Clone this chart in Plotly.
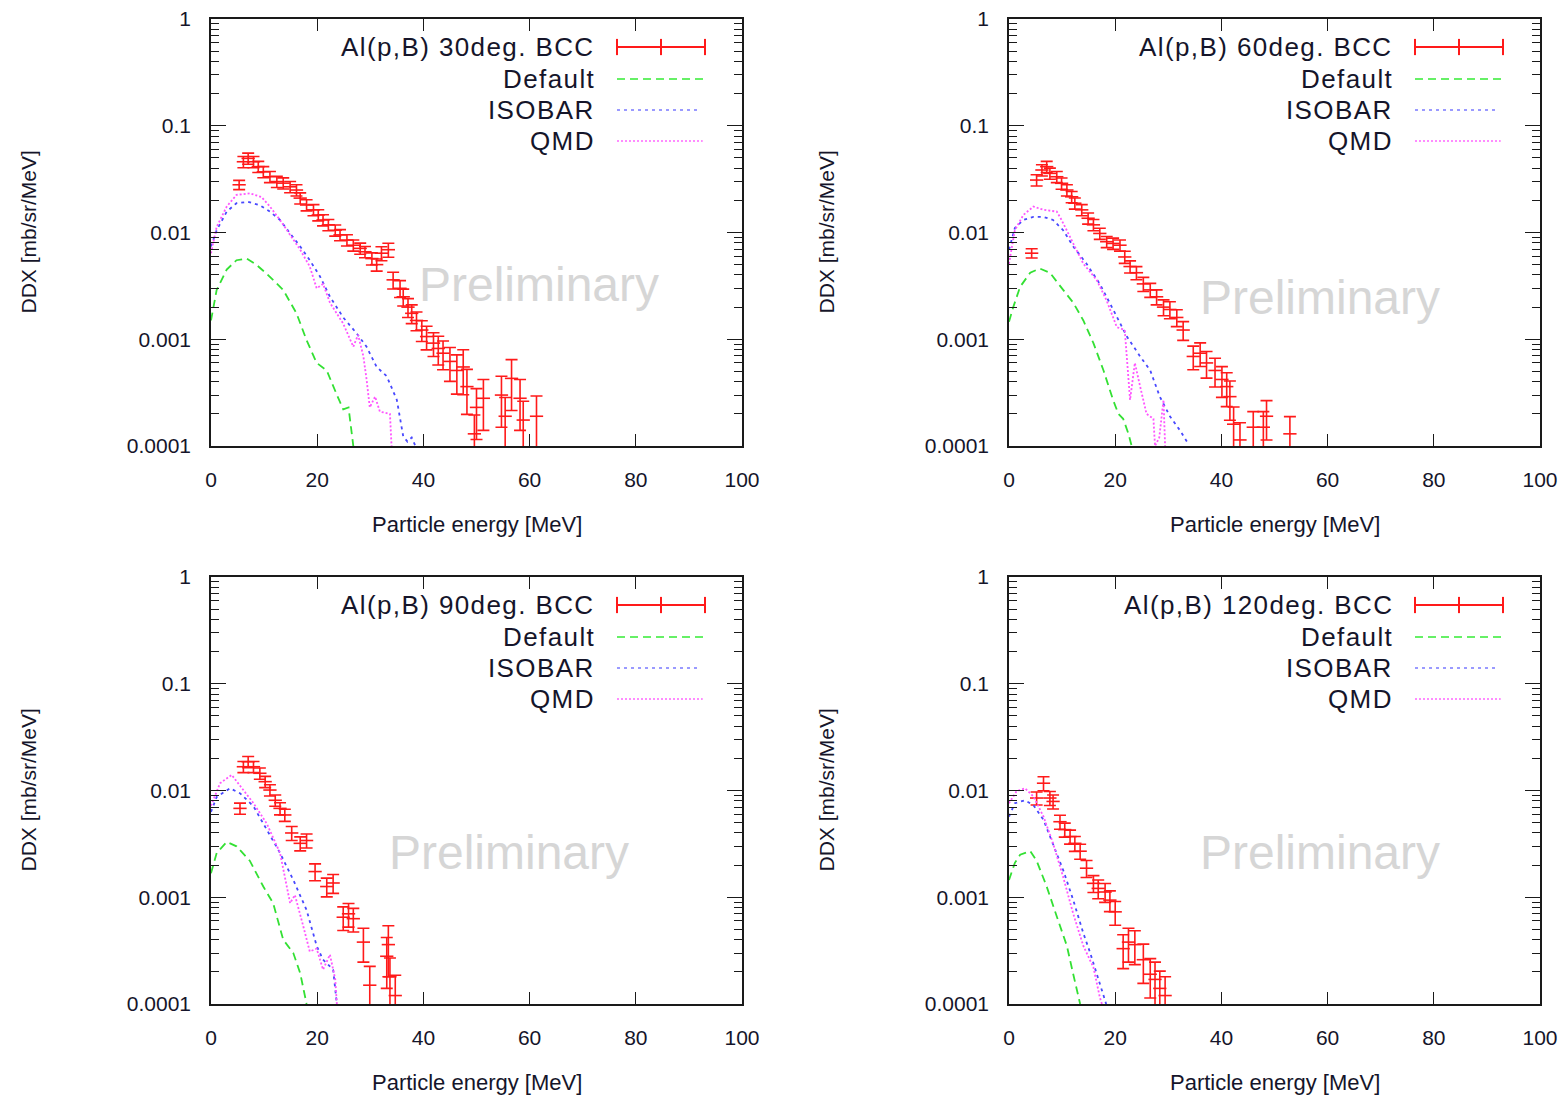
import plotly.graph_objects as go

FONT = "Liberation Sans, Arial, sans-serif"
W, H = 1568, 1098

# ---------------- data ----------------
titles = ["Al(p,B) 30deg. BCC", "Al(p,B) 60deg. BCC", "Al(p,B) 90deg. BCC", "Al(p,B) 120deg. BCC"]
model_names = ["Default", "ISOBAR", "QMD"]
y_tickvals = [1e-4, 1e-3, 1e-2, 1e-1, 1]
y_ticktext = ["0.0001", "0.001", "0.01", "0.1", "1"]
x_tickvals = [0, 20, 40, 60, 80, 100]

# Panel 1: 30 deg
exp30_x = [5.3, 6.1, 7.0, 8.0, 8.9, 9.85, 11.1, 12.4, 13.6, 14.9, 16.1, 16.8, 18.0, 19.3, 20.2, 21.1,
           22.1, 23.4, 24.3, 25.6, 26.8, 28.1, 29.0, 30.3, 31.2, 32.1, 33.4, 34.3, 35.6, 36.2, 37.1,
           37.8, 38.7, 39.7, 40.6, 41.9, 42.8, 43.7, 45.0, 46.3, 47.5, 48.2, 49.6, 50.0, 51.3, 54.7,
           55.4, 56.6, 58.2, 58.8, 61.3]
exp30_y = [0.028, 0.046, 0.0495, 0.046, 0.0414, 0.037, 0.0333, 0.030, 0.029, 0.0268, 0.025, 0.021,
           0.0181, 0.0163, 0.0146, 0.0131, 0.0118, 0.0105, 0.0095, 0.0085, 0.0076, 0.0071, 0.0066,
           0.0057, 0.0050, 0.0064, 0.0069, 0.0036, 0.0030, 0.0025, 0.0020, 0.00175, 0.0015, 0.00122,
           0.00106, 0.00092, 0.00082, 0.00074, 0.00062, 0.00051, 0.00055, 0.00036, 0.00013, 0.00023,
           0.00028, 0.00030, 0.00019, 0.00043, 0.00028, 0.000175, 0.00019]
exp30_rel = [0.10, 0.12, 0.12, 0.12, 0.12, 0.12, 0.12, 0.12, 0.12, 0.12, 0.12, 0.12, 0.12, 0.12,
             0.12, 0.12, 0.12, 0.12, 0.12, 0.12, 0.12, 0.12, 0.12, 0.13, 0.13, 0.15, 0.15, 0.18,
             0.18, 0.18, 0.20, 0.20, 0.20, 0.22, 0.25, 0.25, 0.30, 0.30, 0.35, 0.40, 0.45, 0.45,
             0.50, 0.50, 0.50, 0.50, 0.50, 0.50, 0.50, 0.50, 0.55]
def30_x = [0, 1.07, 2.96, 4.8, 6.7, 8.5, 10.5, 13.6, 16.1, 18.0, 19.9, 21.8, 23.6, 24.9, 25.9, 26.5, 26.8]
def30_y = [0.0015, 0.0029, 0.0045, 0.0055, 0.0057, 0.0050, 0.0041, 0.0029, 0.00175, 0.00098, 0.0006,
           0.00051, 0.00031, 0.00022, 0.00023, 0.00013, 0.0001]
iso30_x = [0, 1.07, 2.96, 4.8, 7.0, 9.2, 11.1, 13.0, 14.9, 16.8, 18.6, 20.5, 22.4, 24.9, 27.4, 29.3,
           31.2, 33.1, 35.0, 35.6, 36.2, 37.0, 37.8, 38.5]
iso30_y = [0.0074, 0.0105, 0.0157, 0.0188, 0.0194, 0.018, 0.0157, 0.0131, 0.0098, 0.0074, 0.0055,
           0.0039, 0.0025, 0.0016, 0.00114, 0.00085, 0.00055, 0.00045, 0.00027, 0.000175, 0.000123,
           0.00011, 0.00012, 0.0001]
qmd30_x = [0, 1.07, 2.96, 4.8, 7.3, 9.5, 11.1, 13.0, 14.9, 16.8, 18.6, 19.9, 21.1, 22.4, 24.9, 26.8,
           27.7, 28.7, 29.3, 29.9, 30.9, 31.8, 33.7, 34.0]
qmd30_y = [0.0064, 0.0113, 0.0175, 0.0225, 0.0233, 0.0215, 0.0175, 0.0131, 0.0095, 0.0069, 0.0048,
           0.0030, 0.0033, 0.0022, 0.0014, 0.00085, 0.0011, 0.00069, 0.00042, 0.00023, 0.00029,
           0.00021, 0.0002, 0.0001]

# Panel 2: 60 deg
exp60_x = [4.27, 5.2, 6.2, 7.1, 7.7, 9.0, 9.9, 10.9, 11.8, 12.4, 13.7, 14.9, 15.9, 17.1, 18.4, 19.6,
           20.9, 21.8, 22.8, 24.0, 25.3, 26.6, 27.8, 29.1, 30.3, 31.6, 32.8, 34.7, 36.0, 37.2, 38.8,
           40.1, 41.0, 41.6, 42.3, 43.5, 46.0, 47.9, 48.5, 52.9]
exp60_y = [0.0064, 0.031, 0.0385, 0.0414, 0.0358, 0.0333, 0.0289, 0.025, 0.0216, 0.0188, 0.0163,
           0.0136, 0.0118, 0.0098, 0.0082, 0.0079, 0.0076, 0.0059, 0.0048, 0.0042, 0.0033, 0.0029,
           0.0025, 0.0020, 0.0019, 0.0016, 0.00122, 0.00069, 0.00074, 0.0006, 0.00051, 0.00042,
           0.00036, 0.00029, 0.00016, 0.000114, 0.00015, 0.00015, 0.00019, 0.00013]
exp60_rel = [0.10, 0.12, 0.12, 0.12, 0.12, 0.12, 0.12, 0.12, 0.12, 0.12, 0.12, 0.12, 0.12, 0.12,
             0.12, 0.12, 0.12, 0.13, 0.13, 0.14, 0.15, 0.15, 0.16, 0.17, 0.18, 0.18, 0.20, 0.25,
             0.25, 0.28, 0.30, 0.32, 0.35, 0.40, 0.45, 0.45, 0.40, 0.40, 0.40, 0.45]
def60_x = [0, 0.8, 2.1, 4.0, 5.8, 7.7, 10.2, 12.1, 14.0, 15.9, 17.8, 19.6, 20.6, 21.5, 22.5, 23.1]
def60_y = [0.00146, 0.0020, 0.0031, 0.0042, 0.0046, 0.0042, 0.0029, 0.0022, 0.0015, 0.00092, 0.00051,
           0.00027, 0.0002, 0.00018, 0.00013, 0.0001]
iso60_x = [0, 1.1, 2.7, 4.6, 6.5, 8.3, 10.2, 12.1, 14.6, 17.1, 19.6, 22.2, 24.7, 26.6, 28.4, 30.3,
           32.2, 33.5]
iso60_y = [0.0069, 0.011, 0.0131, 0.014, 0.014, 0.0131, 0.0105, 0.0074, 0.0051, 0.0033, 0.0019,
           0.00106, 0.00069, 0.00051, 0.00029, 0.00019, 0.00014, 0.00011]
qmd60_x = [0, 1.1, 2.7, 4.6, 6.5, 9.0, 9.9, 11.5, 14.0, 16.5, 18.4, 20.3, 21.8, 22.8, 23.7, 24.7,
           25.9, 27.2, 27.5, 28.3, 29.1, 29.4]
qmd60_y = [0.0051, 0.0105, 0.0146, 0.0175, 0.0163, 0.0157, 0.0131, 0.0091, 0.0051, 0.0036, 0.0023,
           0.0013, 0.00122, 0.00027, 0.0006, 0.00036, 0.0002, 0.00018, 0.0001, 0.00012, 0.00027, 0.0001]

# Panel 3: 90 deg
exp90_x = [5.46, 6.1, 7.0, 8.0, 9.2, 10.2, 11.1, 12.1, 13.0, 13.9, 15.2, 16.8, 18.0, 19.6, 21.8,
           23.0, 24.9, 25.9, 26.8, 28.7, 29.9, 33.1, 33.4, 33.7, 34.7]
exp90_y = [0.0068, 0.0167, 0.0186, 0.0167, 0.0145, 0.0121, 0.0101, 0.0081, 0.0068, 0.0059, 0.0040,
           0.0032, 0.0034, 0.00174, 0.00126, 0.00136, 0.00065, 0.0007, 0.00063, 0.00038, 0.00015,
           0.00028, 0.00036, 0.00018, 0.00012]
exp90_rel = [0.12, 0.12, 0.12, 0.12, 0.12, 0.12, 0.12, 0.12, 0.13, 0.13, 0.15, 0.15, 0.15, 0.18,
             0.20, 0.20, 0.25, 0.25, 0.25, 0.35, 0.50, 0.50, 0.50, 0.50, 0.55]
def90_x = [0, 1.07, 2.96, 4.8, 7.3, 9.85, 11.7, 13.6, 15.5, 16.8, 18.0]
def90_y = [0.00168, 0.0026, 0.0033, 0.0030, 0.0022, 0.00126, 0.00088, 0.0004, 0.0003, 0.000194, 0.0001]
iso90_x = [0, 1.07, 3.6, 5.5, 8.0, 10.5, 13.0, 15.5, 18.0, 19.9, 21.1, 23.0, 23.7]
iso90_y = [0.0063, 0.0087, 0.0105, 0.0094, 0.0071, 0.0043, 0.0026, 0.00145, 0.00076, 0.00035,
           0.00026, 0.00021, 0.0001]
qmd90_x = [0, 1.7, 3.9, 6.1, 8.0, 10.5, 13.0, 14.9, 15.8, 17.4, 18.6, 19.9, 21.1, 22.4, 23.4, 23.7]
qmd90_y = [0.0072, 0.0117, 0.014, 0.0101, 0.0076, 0.0049, 0.0026, 0.00088, 0.00105, 0.00053,
           0.00031, 0.00033, 0.00021, 0.00029, 0.00017, 0.0001]

# Panel 4: 120 deg
exp120_x = [5.2, 6.5, 7.7, 8.3, 9.6, 10.5, 11.5, 12.4, 13.4, 14.6, 15.9, 16.8, 18.1, 19.0, 20.0,
            21.5, 22.5, 23.7, 25.3, 26.6, 27.5, 28.4, 29.4]
exp120_y = [0.0085, 0.0117, 0.0085, 0.0079, 0.0051, 0.0043, 0.0037, 0.0032, 0.0027, 0.00187,
            0.00135, 0.00121, 0.00112, 0.00094, 0.00073, 0.00033, 0.00038, 0.00036, 0.00026,
            0.00019, 0.00017, 0.00014, 0.00012]
exp120_rel = [0.14, 0.15, 0.15, 0.15, 0.15, 0.15, 0.15, 0.16, 0.16, 0.18, 0.18, 0.20, 0.20, 0.22,
              0.25, 0.35, 0.35, 0.35, 0.40, 0.40, 0.45, 0.45, 0.50]
def120_x = [0, 1.1, 2.1, 4.0, 5.2, 7.1, 9.0, 10.9, 12.1, 13.4]
def120_y = [0.00145, 0.0021, 0.0025, 0.0027, 0.0022, 0.00126, 0.00066, 0.00035, 0.00019, 0.0001]
iso120_x = [0, 1.1, 3.0, 4.6, 6.5, 8.3, 10.2, 12.1, 14.0, 15.3, 16.5, 17.8, 18.3]
iso120_y = [0.0057, 0.0076, 0.0081, 0.0073, 0.0053, 0.0032, 0.0018, 0.00094, 0.00046, 0.0003,
            0.00019, 0.000116, 0.0001]
qmd120_x = [0, 1.4, 3.0, 4.6, 6.5, 8.3, 10.2, 12.1, 14.0, 15.9, 17.1, 17.5]
qmd120_y = [0.0076, 0.0098, 0.0105, 0.0088, 0.0057, 0.0032, 0.00155, 0.0007, 0.00035, 0.00022,
            0.000116, 0.0001]

panels = [
    (exp30_x, exp30_y, exp30_rel, def30_x, def30_y, iso30_x, iso30_y, qmd30_x, qmd30_y),
    (exp60_x, exp60_y, exp60_rel, def60_x, def60_y, iso60_x, iso60_y, qmd60_x, qmd60_y),
    (exp90_x, exp90_y, exp90_rel, def90_x, def90_y, iso90_x, iso90_y, qmd90_x, qmd90_y),
    (exp120_x, exp120_y, exp120_rel, def120_x, def120_y, iso120_x, iso120_y, qmd120_x, qmd120_y),
]
x_half_width = 1.25  # MeV, horizontal error bar half width

# ---------------- styles ----------------
RED = "#ff1a1a"
COL = {"Default": "#33e033", "ISOBAR": "#4848ff", "QMD": "#ff55ff"}
LEG_COL = {"Default": "#66f066", "ISOBAR": "#9a9aff", "QMD": "#ff8cff"}
DASH = {"Default": "8px,5px", "ISOBAR": "3px,4px", "QMD": "2px,2px"}

# pixel geometry of plot areas (left, right, top, bottom)
boxes = [(211, 742, 19, 446), (1009, 1540, 19, 446), (211, 742, 577, 1004), (1009, 1540, 577, 1004)]
wm_pos = [(0.618, 0.379), (0.586, 0.347), (0.561, 0.354), (0.586, 0.354)]

def px(xp):
    return xp / W

def py(yp):
    return 1 - yp / H

fig = go.Figure()
layout = dict(width=W, height=H, margin=dict(l=0, r=0, t=0, b=0, autoexpand=False),
              paper_bgcolor="white", plot_bgcolor="white", showlegend=False,
              font=dict(family=FONT, color="#15152a"))
annotations = []
shapes = []

for i, (box, data) in enumerate(zip(boxes, panels)):
    n = i + 1
    xa = "x" if n == 1 else f"x{n}"
    ya = "y" if n == 1 else f"y{n}"
    l, r, t, b = box
    ex, ey, erel, dx, dy, ix, iy, qx, qy = data

    # experiment
    fig.add_trace(go.Scatter(
        x=ex, y=ey, mode="markers", xaxis=xa, yaxis=ya,
        marker=dict(size=1, color=RED),
        error_y=dict(type="data", array=[v * e for v, e in zip(ey, erel)], color=RED,
                     thickness=1.6, width=6),
        error_x=dict(type="constant", value=x_half_width, color=RED, thickness=1.6, width=0),
    ))
    for name, xs, ys in [("Default", dx, dy), ("ISOBAR", ix, iy), ("QMD", qx, qy)]:
        fig.add_trace(go.Scatter(x=xs, y=ys, mode="lines", xaxis=xa, yaxis=ya,
                                 line=dict(color=COL[name], width=1.8, dash=DASH[name])))

    common_ax = dict(showline=True, linecolor="#1a1a1a", linewidth=1.6, mirror="allticks",
                     ticks="inside", tickcolor="#1a1a1a", tickwidth=1.4, showgrid=False,
                     zeroline=False, automargin=False,
                     tickfont=dict(family=FONT, size=21, color="#15152a"))
    layout["xaxis" + ("" if n == 1 else str(n))] = dict(
        domain=[px(l), px(r)], anchor=ya, range=[0, 100], tickvals=x_tickvals,
        ticklen=12, ticklabelstandoff=14, **common_ax)
    layout["yaxis" + ("" if n == 1 else str(n))] = dict(
        domain=[py(b), py(t)], anchor=xa, type="log", range=[-4, 0],
        tickvals=y_tickvals, ticktext=y_ticktext, ticklen=15, ticklabelstandoff=14,
        minor=dict(ticks="inside", ticklen=8, tickwidth=1.2, tickcolor="#1a1a1a",
                   dtick="D1", showgrid=False),
        **common_ax)

    dom_x = xa + " domain"
    dom_y = ya + " domain"
    # legend
    rows = [0.9344, 0.8595, 0.7869, 0.7143]
    labels = [titles[i]] + model_names
    for row, lab in zip(rows, labels):
        annotations.append(dict(xref=dom_x, yref=dom_y, x=0.727, y=row,
                                text=f'<span style="letter-spacing:1.4px">{lab}</span>',
                                showarrow=False, xanchor="right", yanchor="middle",
                                font=dict(family=FONT, size=26, color="#15152a")))
    x0s, x1s = 0.7646, 0.9303
    shapes.append(dict(type="line", xref=dom_x, yref=dom_y, x0=x0s, x1=x1s, y0=rows[0], y1=rows[0],
                       line=dict(color=RED, width=2)))
    cap = 0.019
    for xc in [x0s, (x0s + x1s) / 2, x1s]:
        shapes.append(dict(type="line", xref=dom_x, yref=dom_y, x0=xc, x1=xc,
                           y0=rows[0] - cap, y1=rows[0] + cap, line=dict(color=RED, width=2)))
    ends = {"Default": 0.9303, "ISOBAR": 0.917, "QMD": 0.926}
    for row, name in zip(rows[1:], model_names):
        shapes.append(dict(type="line", xref=dom_x, yref=dom_y, x0=x0s, x1=ends[name], y0=row, y1=row,
                           line=dict(color=LEG_COL[name], width=2.2, dash=DASH[name])))
    # watermark
    wx, wy = wm_pos[i]
    annotations.append(dict(xref=dom_x, yref=dom_y, x=wx, y=wy, text="Preliminary",
                            showarrow=False, xanchor="center", yanchor="middle",
                            font=dict(family=FONT, size=48, color="#d6d6d6")))
    # axis titles
    annotations.append(dict(xref="paper", yref="paper", x=px((l + r) / 2), y=py(b + 78),
                            text="Particle energy [MeV]", showarrow=False,
                            xanchor="center", yanchor="middle",
                            font=dict(family=FONT, size=22, color="#15152a")))
    annotations.append(dict(xref="paper", yref="paper", x=px(l - 183), y=py((t + b) / 2),
                            text="DDX [mb/sr/MeV]", showarrow=False, textangle=-90,
                            xanchor="center", yanchor="middle",
                            font=dict(family=FONT, size=21, color="#15152a")))

layout["annotations"] = annotations
layout["shapes"] = shapes
fig.update_layout(**layout)
fig.write_html("out.html")
